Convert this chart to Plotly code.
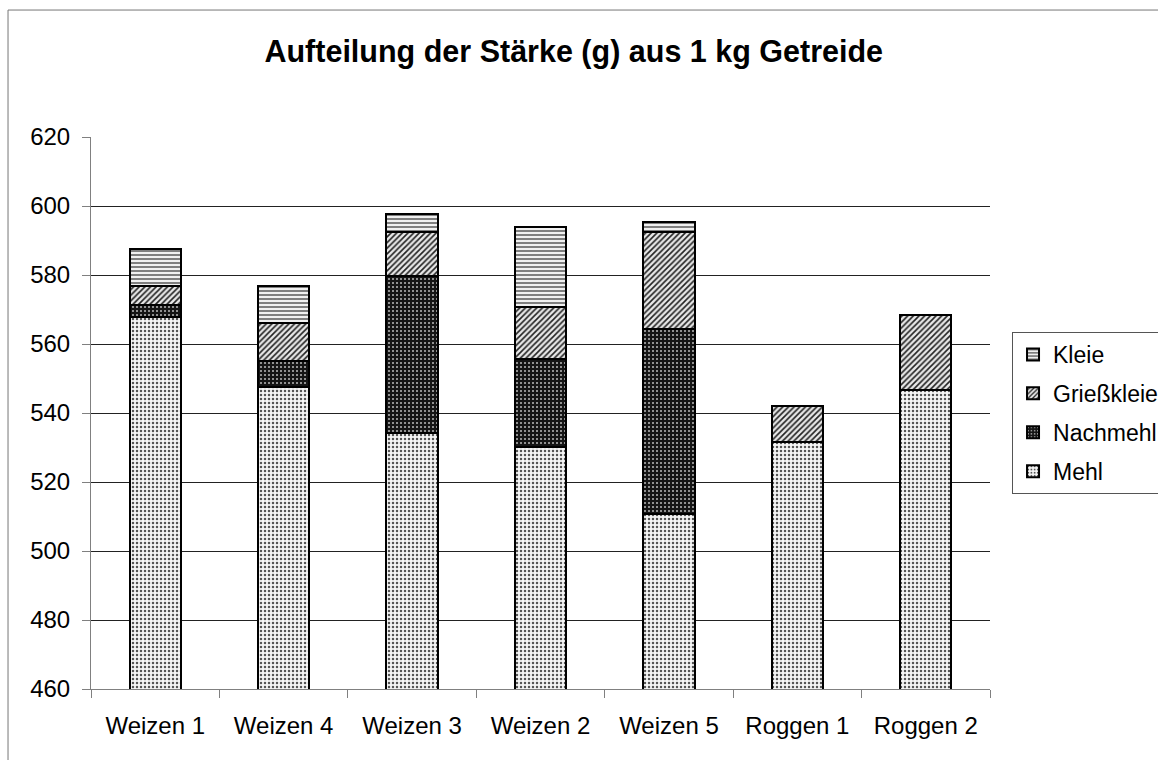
import plotly.graph_objects as go

categories = ["Weizen 1", "Weizen 4", "Weizen 3", "Weizen 2", "Weizen 5", "Roggen 1", "Roggen 2"]
mehl = [567.7, 547.5, 534.3, 530.1, 510.7, 531.5, 546.6]
nachmehl = [3.6, 7.7, 45.4, 25.6, 53.7, 0, 0]
griesskleie = [5.6, 11.0, 12.9, 14.9, 28.1, 10.6, 21.7]
kleie = [10.6, 10.5, 5.0, 23.2, 2.9, 0, 0]
y_ticks = [460, 480, 500, 520, 540, 560, 580, 600, 620]

FONT = "Liberation Sans, Arial, sans-serif"

series = [
    ("Mehl", mehl, dict(shape=".", fgcolor="#555555", bgcolor="#f6f6f6", size=4, solidity=0.3, fillmode="replace")),
    ("Nachmehl", nachmehl, dict(shape=".", fgcolor="#bbbbbb", bgcolor="#151515", size=4, solidity=0.2, fillmode="replace")),
    ("Grießkleie", griesskleie, dict(shape="/", fgcolor="#222222", bgcolor="#e8e8e8", size=4, solidity=0.4, fillmode="replace")),
    ("Kleie", kleie, dict(shape="-", fgcolor="#333333", bgcolor="#f0f0f0", size=4, solidity=0.3, fillmode="replace")),
]

fig = go.Figure()
n = len(series)
for i, (name, vals, pat) in enumerate(series):
    fig.add_trace(go.Bar(
        x=categories, y=vals, name=name, legendgroup=name, legendrank=1000 + (n - i),
        marker=dict(color="white", pattern=pat, line=dict(color="black", width=2)),
        width=0.4,
    ))

fig.update_layout(
    barmode="stack",
    width=1158, height=760,
    paper_bgcolor="white", plot_bgcolor="white",
    margin=dict(l=91, r=168, t=137, b=71, autoexpand=False),
    font=dict(family=FONT, color="black", size=24),
    title=dict(text="<b>Aufteilung der Stärke (g) aus 1 kg Getreide</b>",
               x=0.537, xanchor="center", y=0.932, yanchor="middle", xref="paper",
               font=dict(family=FONT, size=30.5, color="black")),
    legend=dict(traceorder="grouped", x=1.0245, xanchor="left", y=0.5, yanchor="middle",
                bordercolor="#555555", borderwidth=1, bgcolor="white",
                font=dict(family=FONT, size=23), itemsizing="constant", tracegroupgap=6),
    showlegend=True,
    shapes=[
        dict(type="line", xref="paper", yref="paper", x0=-0.0923, x1=1.2, y0=1.230, y1=1.230,
             line=dict(color="#777777", width=1)),
        dict(type="line", xref="paper", yref="paper", x0=-0.0923, x1=-0.0923, y0=-0.14, y1=1.230,
             line=dict(color="#777777", width=1)),
    ],
)
fig.update_xaxes(
    type="category", showline=True, linecolor="#808080", linewidth=1,
    ticks="outside", tickson="boundaries", ticklen=8, tickcolor="#808080",
    tickfont=dict(family=FONT, size=24, color="black"), showgrid=False,
    ticklabelstandoff=15,
)
fig.update_yaxes(
    range=[460, 620], tickvals=y_ticks, showline=True, linecolor="#808080", linewidth=1,
    ticks="outside", ticklen=8, tickcolor="#808080",
    showgrid=True, gridcolor="#222222", gridwidth=1, zeroline=False,
    tickfont=dict(family=FONT, size=24, color="black"), ticklabelstandoff=7,
)

fig.write_html("out.html", config={"displayModeBar": False},
               post_script="document.body.style.margin='0';document.body.style.padding='0';")
